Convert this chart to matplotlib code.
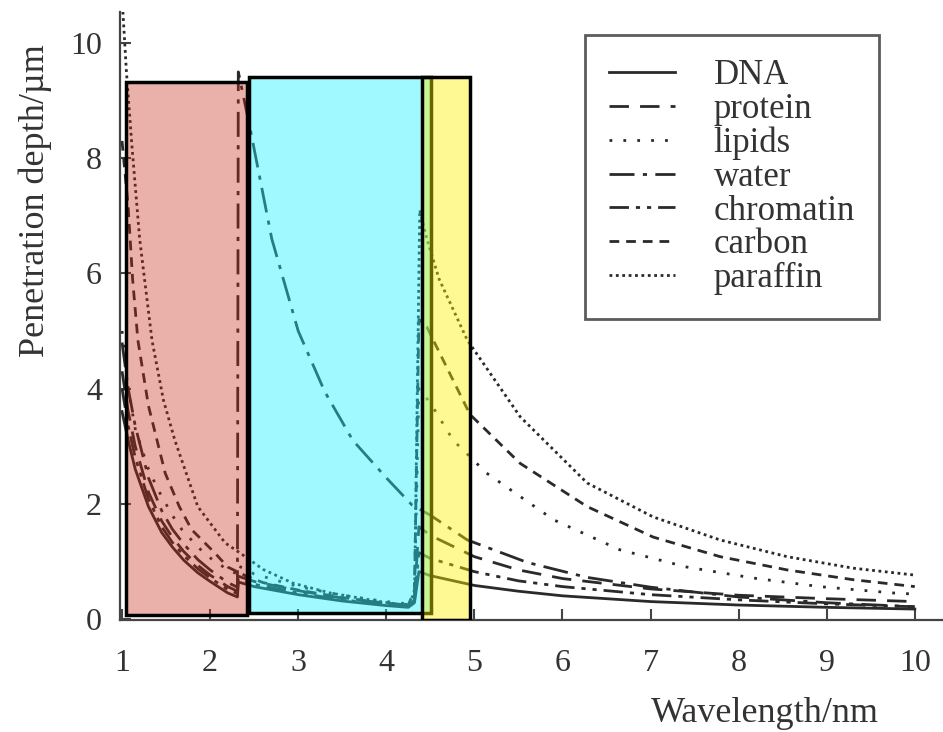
import matplotlib
matplotlib.use("Agg")
import matplotlib.pyplot as plt
from matplotlib.patches import Rectangle

plt.rcParams['font.family'] = ['Liberation Serif', 'DejaVu Serif']

# penetration depth (um) against wavelength (nm)
dna_wl = [1.0, 1.07, 1.15, 1.3, 1.45, 1.57, 1.7, 1.86, 2.0, 2.2, 2.31, 2.32, 2.5, 3.0, 3.5, 4.0, 4.25, 4.32, 4.37,
          4.5, 5.0, 5.5, 6.0, 7.0, 8.0, 9.0, 10.0]
dna_depth = [3.6, 3.1, 2.6, 1.95, 1.5, 1.25, 1.02, 0.8, 0.65, 0.45, 0.38, 0.64, 0.56, 0.42, 0.31, 0.23, 0.2, 0.28, 0.82,
             0.75, 0.58, 0.48, 0.4, 0.3, 0.24, 0.2, 0.17]

protein_wl = dna_wl
protein_depth = [4.3, 3.6, 3.0, 2.2, 1.7, 1.42, 1.17, 0.93, 0.76, 0.56, 0.48, 0.74, 0.65, 0.49, 0.36, 0.27, 0.24, 0.4, 1.6,
                 1.45, 1.08, 0.85, 0.7, 0.52, 0.41, 0.35, 0.3]

chromatin_wl = dna_wl
chromatin_depth = [4.0, 3.35, 2.8, 2.08, 1.6, 1.33, 1.1, 0.87, 0.71, 0.51, 0.44, 0.7, 0.6, 0.45, 0.33, 0.25, 0.22, 0.33, 1.15,
                   1.05, 0.82, 0.66, 0.56, 0.42, 0.33, 0.26, 0.21]

water_wl = [1.0, 1.07, 1.15, 1.3, 1.45, 1.57, 1.7, 1.86, 2.0, 2.2, 2.31, 2.32, 2.45, 2.7, 3.0, 3.3, 3.62, 4.0, 4.29,
            4.5, 4.92, 5.6, 6.28, 7.0, 8.0, 9.0, 10.0]
water_depth = [4.8, 4.0, 3.35, 2.45, 1.88, 1.56, 1.3, 1.03, 0.85, 0.63, 0.55, 9.5, 8.55, 6.6, 5.0, 3.95, 3.1, 2.45, 1.98,
               1.8, 1.37, 0.98, 0.72, 0.55, 0.38, 0.28, 0.21]

lipids_wl = [1.0, 1.07, 1.15, 1.3, 1.41, 1.57, 1.68, 1.86, 1.98, 2.2, 2.31, 2.32, 2.5, 3.0, 3.5, 4.0, 4.25, 4.32, 4.37,
             4.5, 4.76, 5.14, 5.9, 6.65, 7.41, 8.16, 8.92, 9.75, 10.0]
lipids_depth = [5.0, 4.0, 3.3, 2.6, 2.24, 1.8, 1.55, 1.25, 1.08, 0.85, 0.78, 0.92, 0.78, 0.56, 0.41, 0.3, 0.26, 0.45, 4.0,
                3.75, 3.1, 2.53, 1.72, 1.2, 0.9, 0.71, 0.56, 0.45, 0.43]

carbon_wl = [1.0, 1.07, 1.12, 1.18, 1.3, 1.49, 1.65, 1.79, 2.05, 2.2, 2.4, 2.6, 3.0, 3.5, 4.0, 4.25, 4.32, 4.37,
             4.46, 4.95, 5.52, 6.28, 7.03, 7.79, 8.55, 9.3, 10.0]
carbon_depth = [8.3, 7.15, 5.9, 4.84, 3.7, 2.53, 1.95, 1.55, 1.15, 0.9, 0.75, 0.63, 0.5, 0.37, 0.27, 0.24, 0.5, 5.2,
                5.07, 3.55, 2.7, 1.95, 1.42, 1.08, 0.85, 0.68, 0.56]

paraffin_wl = [1.0, 1.05, 1.11, 1.2, 1.34, 1.47, 1.6, 1.86, 2.17, 2.4, 2.6, 2.94, 3.36, 3.93, 4.2, 4.32, 4.38,
               4.46, 4.6, 4.92, 5.52, 6.28, 7.03, 7.79, 8.55, 9.3, 10.0]
paraffin_depth = [10.8, 9.5, 8.26, 6.6, 4.84, 3.8, 3.1, 1.95, 1.32, 1.08, 0.86, 0.62, 0.45, 0.3, 0.24, 0.3, 7.1,
                  6.6, 5.9, 4.84, 3.51, 2.36, 1.77, 1.37, 1.08, 0.88, 0.76]

labels = ['DNA', 'protein', 'lipids', 'water', 'chromatin', 'carbon', 'paraffin']

# highlight boxes drawn over the scan: (x0, x1, y0, y1, rgba fill)
highlight_boxes = [
    (1.045, 2.419, 0.07, 9.32, (0.78, 0.16, 0.08, 0.36)),
    (2.441, 4.507, 0.10, 9.41, (0.10, 0.95, 1.0, 0.42)),
    (4.405, 4.95, -0.02, 9.41, (1.0, 0.95, 0.0, 0.42)),
]

ink = '#2a2a2a'
series = [
    (dna_wl, dna_depth, '-'),
    (protein_wl, protein_depth, (0, (7, 4))),
    (lipids_wl, lipids_depth, (0, (1, 4))),
    (water_wl, water_depth, (0, (9, 3, 1.5, 3))),
    (chromatin_wl, chromatin_depth, (0, (7, 2.5, 1.5, 2.5, 1.5, 2.5))),
    (carbon_wl, carbon_depth, (0, (3.5, 2.5))),
    (paraffin_wl, paraffin_depth, (0, (1, 1.3))),
]

fig = plt.figure(figsize=(9.43, 7.32), dpi=100)
ax = fig.add_axes([120 / 943, (732 - 620) / 732, 823 / 943, 608 / 732])

for (wl, d, ls), lab in zip(series, labels):
    ax.plot(wl, d, color=ink, lw=2.0, linestyle=ls, label=lab)

for x0, x1, y0, y1, fc in highlight_boxes:
    ax.add_patch(Rectangle((x0, y0), x1 - x0, y1 - y0, facecolor=fc,
                           edgecolor='black', linewidth=2.5, zorder=5))

ax.set_xlim(0.977, 10.32)
ax.set_ylim(-0.02, 10.54)
ax.set_xticks(range(1, 11))
ax.set_yticks([0, 2, 4, 6, 8, 10])
for s in ['top', 'right']:
    ax.spines[s].set_visible(False)
for s in ['left', 'bottom']:
    ax.spines[s].set_color('#444444')
    ax.spines[s].set_linewidth(1.6)
ax.tick_params(direction='in', length=8, width=1.5, color='#444444',
               labelsize=23, labelcolor='#333333')
ax.tick_params(axis='x', pad=21)
ax.tick_params(axis='y', pad=13)

ax.set_xlabel('Wavelength/nm', fontsize=26, color='#333333')
ax.xaxis.set_label_coords(0.784, -0.127)
ax.set_ylabel('Penetration depth/µm', fontsize=26, color='#333333')
ax.yaxis.set_label_coords(-0.083, 0.69)

leg = ax.legend(loc='upper left', bbox_to_anchor=(585 / 943, 1 - 35 / 732),
                bbox_transform=fig.transFigure, fontsize=25, frameon=True,
                fancybox=False, edgecolor='#333333', handlelength=1.9,
                handletextpad=1.1, labelspacing=0.02, borderpad=0.7,
                borderaxespad=0)
leg.get_frame().set_linewidth(2)
for t in leg.get_texts():
    t.set_color('#333333')

fig.savefig('out.png', dpi=100)
